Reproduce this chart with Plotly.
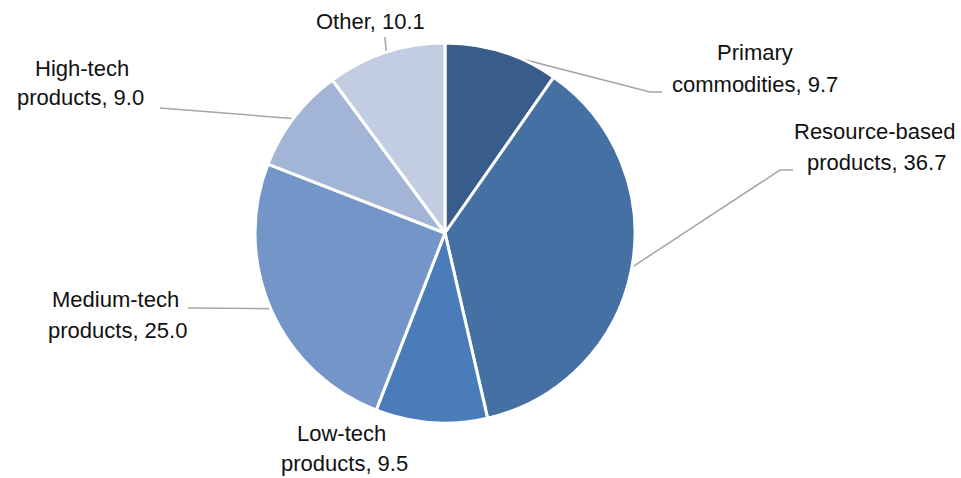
import math
import plotly.graph_objects as go

# Export structure shares (%)
categories = ["Primary commodities", "Resource-based products", "Low-tech products",
              "Medium-tech products", "High-tech products", "Other"]
shares = [9.7, 36.7, 9.5, 25.0, 9.0, 10.1]
label_first = ["Primary", "Resource-based", "Low-tech", "Medium-tech", "High-tech", None]
label_second = ["commodities", "products", "products", "products", "products", "Other"]
colors = ["#395d8a", "#4470a4", "#4a7cb9", "#7495c7", "#a2b5d6", "#c2cde3"]

W, H = 961, 478
CX, CY, R = 445, 233, 188          # pie centre and drawn radius in pixels
PAD = 2                            # plotly insets the pie slightly inside its domain

# Label placement (pixel centres of the two text lines) and leader-line elbows
label_xy = [
    ((755, 52), (755, 84)),
    ((874, 131), (876, 162)),
    ((341, 433), (344, 463)),
    ((115, 299), (117, 330)),
    ((82, 68), (80, 97)),
    (None, (370, 21)),
]
leader_route = [
    [(662, 92), (650, 92)],
    [(793, 170), (780, 170)],
    None,
    [(188, 308)],
    [(160, 108)],
    [(385, 37)],
]

fig = go.Figure()

fig.add_trace(go.Pie(
    labels=categories,
    values=shares,
    sort=False,
    direction="clockwise",
    rotation=0,
    marker=dict(colors=colors, line=dict(color="white", width=3)),
    textinfo="none",
    hoverinfo="skip",
    showlegend=False,
    domain=dict(x=[(CX - R - PAD) / W, (CX + R + PAD) / W],
                y=[(H - CY - R - PAD) / H, (H - CY + R + PAD) / H]),
))

# Leader lines: from the outer edge at each slice's mid-angle to its label
total = sum(shares)
cum = 0.0
for v, route in zip(shares, leader_route):
    mid = (cum + v / 2) / total * 2 * math.pi
    cum += v
    if route is None:
        continue
    ex = CX + R * math.sin(mid)
    ey = CY - R * math.cos(mid)
    pts = route + [(ex, ey)]
    fig.add_trace(go.Scatter(
        x=[p[0] for p in pts], y=[p[1] for p in pts],
        mode="lines", line=dict(color="#a6a6a6", width=1.5),
        hoverinfo="skip", showlegend=False,
    ))

font = dict(family="Liberation Sans, Arial, sans-serif", size=22, color="#111111")
for first, second, v, (p1, p2) in zip(label_first, label_second, shares, label_xy):
    if first is not None:
        fig.add_annotation(x=p1[0], y=p1[1], text=first, showarrow=False,
                           xanchor="center", yanchor="middle", font=font)
    fig.add_annotation(x=p2[0], y=p2[1], text=f"{second}, {v:.1f}", showarrow=False,
                       xanchor="center", yanchor="middle", font=font)

fig.update_xaxes(range=[0, W], visible=False, fixedrange=True)
fig.update_yaxes(range=[H, 0], visible=False, fixedrange=True)
fig.update_layout(
    width=W, height=H,
    margin=dict(l=0, r=0, t=0, b=0),
    paper_bgcolor="white", plot_bgcolor="rgba(0,0,0,0)",
)

fig.write_html("out.html")
